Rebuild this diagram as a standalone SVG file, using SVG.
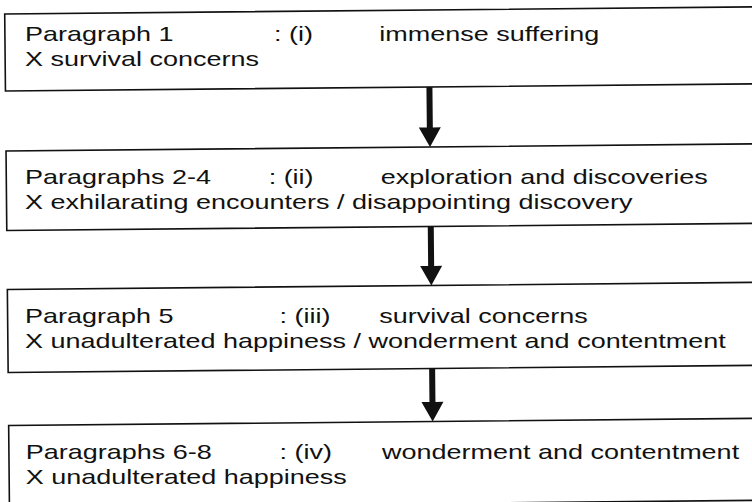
<svg xmlns="http://www.w3.org/2000/svg" width="752" height="502" viewBox="0 0 752 502">
<defs>
<style>
.box{fill:#fff;stroke:#111;stroke-width:1.6}
.t{font-family:"Liberation Sans",Arial,sans-serif;font-size:20px;fill:#111}
.arr{fill:#111}
</style>
</defs>
<rect width="752" height="502" fill="#fff"/>
<g id="node1">
<rect class="box" x="7" y="10.5" width="770" height="77" transform="rotate(-0.55 376 251)"/>
<g transform="scale(1.35 1)">
<text class="t" x="18.5" y="41">Paragraph 1</text>
<text class="t" x="203" y="41">: (i)</text>
<text class="t" x="281" y="41">immense suffering</text>
<text class="t" x="18.5" y="66">X survival concerns</text>
</g>
</g>
<g id="node2">
<rect class="box" x="7" y="147.5" width="770" height="79.5" transform="rotate(-0.55 376 251)"/>
<g transform="scale(1.35 1)">
<text class="t" x="18.5" y="184">Paragraphs 2-4</text>
<text class="t" x="199" y="184">: (ii)</text>
<text class="t" x="282" y="184">exploration and discoveries</text>
<text class="t" x="18.5" y="209">X exhilarating encounters / disappointing discovery</text>
</g>
</g>
<g id="node3">
<rect class="box" x="7" y="286" width="770" height="83" transform="rotate(-0.55 376 251)"/>
<g transform="scale(1.35 1)">
<text class="t" x="18.5" y="323">Paragraph 5</text>
<text class="t" x="207" y="323">: (iii)</text>
<text class="t" x="281" y="323">survival concerns</text>
<text class="t" x="18.5" y="348">X unadulterated happiness / wonderment and contentment</text>
</g>
</g>
<g id="node4">
<rect class="box" x="7" y="422" width="770" height="82" transform="rotate(-0.55 376 251)"/>
<g transform="scale(1.35 1)">
<text class="t" x="19" y="459">Paragraphs 6-8</text>
<text class="t" x="207" y="459">: (iv)</text>
<text class="t" x="283" y="459">wonderment and contentment</text>
<text class="t" x="19" y="484">X unadulterated happiness</text>
</g>
</g>
<g id="connectors" transform="rotate(-0.55 376 251)">
<path class="arr" d="M428 87.5 H434 V128 H442 L431 147.5 L420 128 H428 Z"/>
<path class="arr" d="M428 227 H434 V266.5 H442 L431 286 L420 266.5 H428 Z"/>
<path class="arr" d="M428 369 H434 V402.5 H442 L431 422 L420 402.5 H428 Z"/>
</g>
</svg>
